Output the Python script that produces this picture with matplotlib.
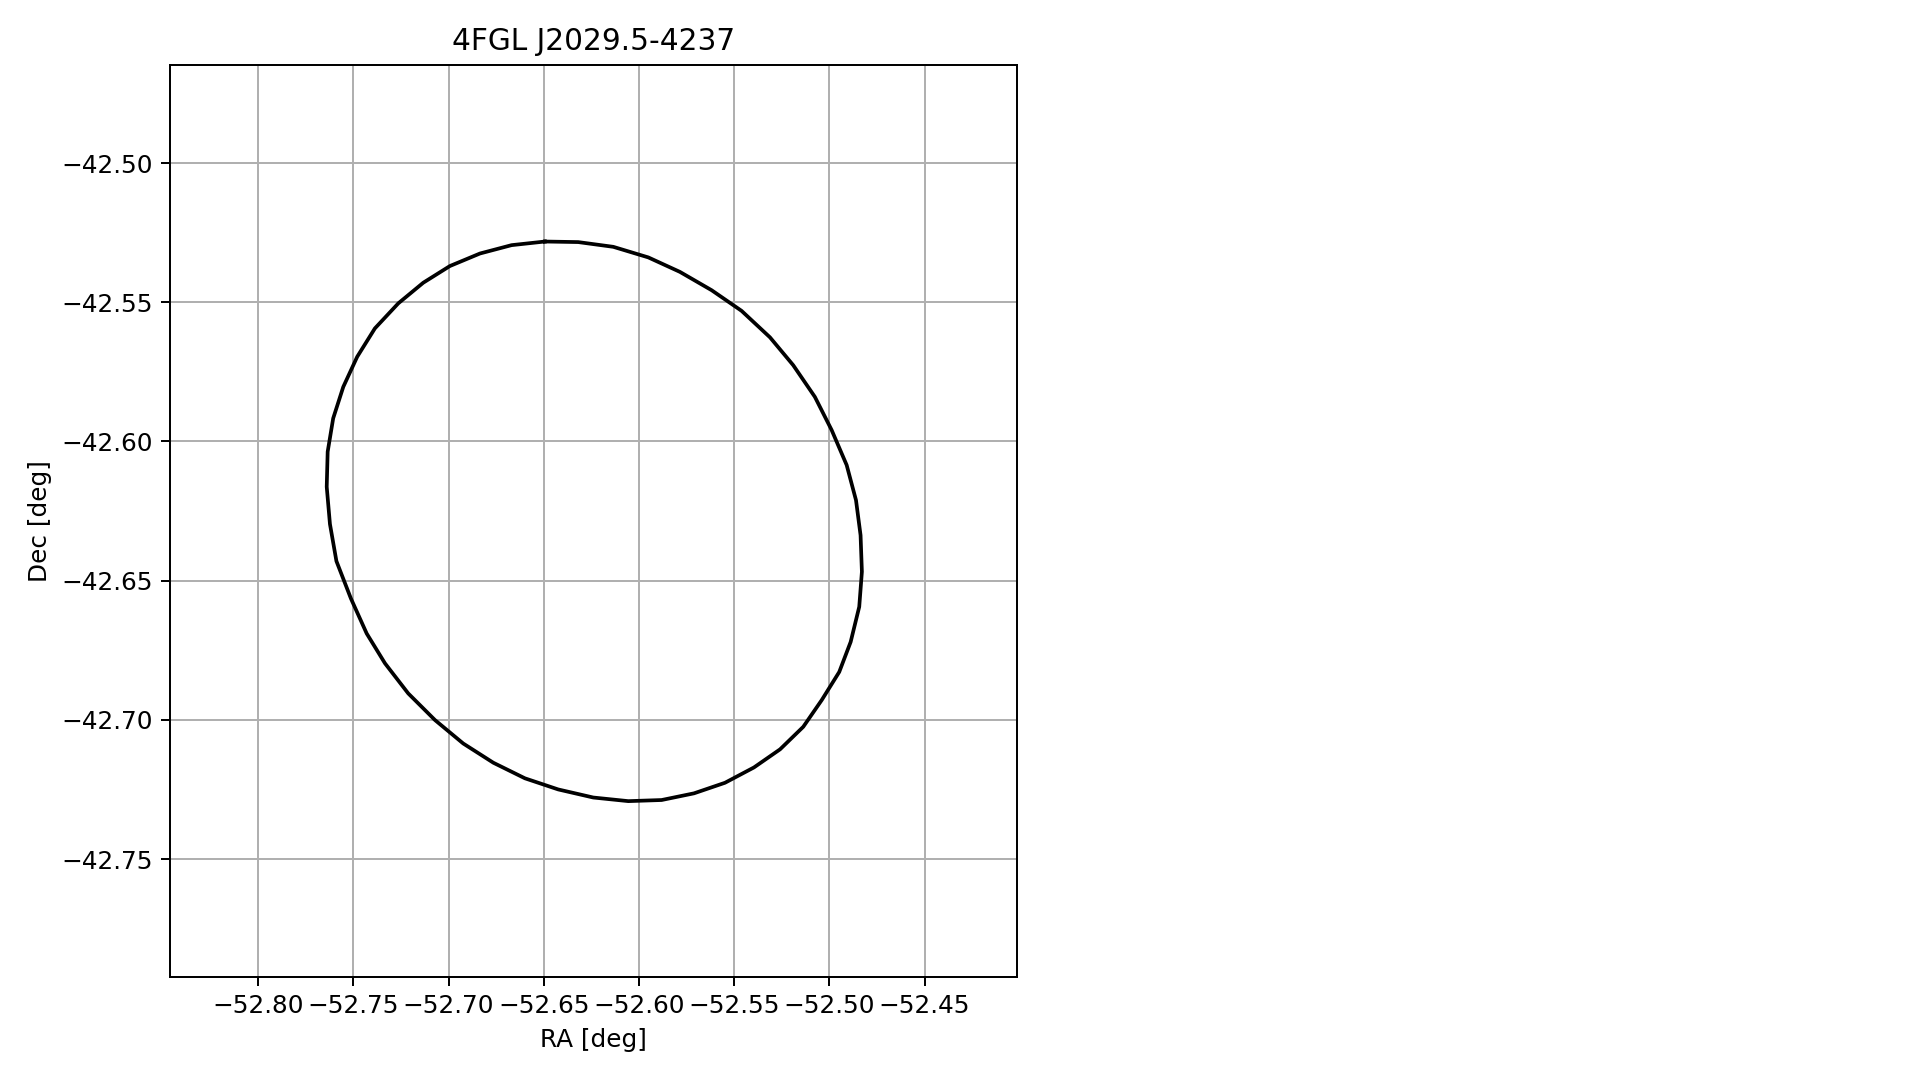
import matplotlib
matplotlib.use("Agg")
import matplotlib.pyplot as plt

# contour vertices (deg)
ra = [-52.6494, -52.6319, -52.6135, -52.5951, -52.5785, -52.5618, -52.5461,
      -52.5312, -52.5190, -52.5076, -52.4988, -52.4909, -52.4860, -52.4836,
      -52.4829, -52.4843, -52.4888, -52.4948, -52.5040, -52.5137, -52.5259,
      -52.5396, -52.5548, -52.5711, -52.5881, -52.6056, -52.6240, -52.6424,
      -52.6599, -52.6765, -52.6923, -52.7071, -52.7212, -52.7334, -52.7430,
      -52.7513, -52.7589, -52.7623, -52.7640, -52.7635, -52.7606, -52.7553,
      -52.7480, -52.7387, -52.7264, -52.7133, -52.6993, -52.6835, -52.6669,
      -52.6494]
dec = [-42.5282, -42.5284, -42.5301, -42.5339, -42.5391, -42.5457, -42.5531,
       -42.5626, -42.5726, -42.5840, -42.5959, -42.6085, -42.6211, -42.6337,
       -42.6468, -42.6594, -42.6720, -42.6828, -42.6929, -42.7025, -42.7106,
       -42.7171, -42.7226, -42.7264, -42.7288, -42.7292, -42.7279, -42.7250,
       -42.7210, -42.7154, -42.7085, -42.7001, -42.6905, -42.6797, -42.6690,
       -42.6564, -42.6430, -42.6297, -42.6163, -42.6037, -42.5917, -42.5804,
       -42.5696, -42.5594, -42.5504, -42.5430, -42.5370, -42.5325, -42.5295,
       -42.5282]

name = "4FGL J2029.5-4237"
ra_ticks = [-52.80, -52.75, -52.70, -52.65, -52.60, -52.55, -52.50, -52.45]
dec_ticks = [-42.50, -42.55, -42.60, -42.65, -42.70, -42.75]

s = 1.78  # scale from default sizes to this canvas
plt.rcParams.update({
    "font.size": 10 * s,
    "axes.linewidth": 0.8 * s,
    "xtick.major.size": 3.5 * s,
    "ytick.major.size": 3.5 * s,
    "xtick.major.width": 0.8 * s,
    "ytick.major.width": 0.8 * s,
    "xtick.major.pad": 3.5 * s,
    "ytick.major.pad": 3.5 * s,
    "axes.titlepad": 6 * s,
    "axes.labelpad": 4 * s,
})

fig = plt.figure(figsize=(19.19, 10.8), dpi=100)
ax = fig.add_axes([0.0888, 0.0958, 0.4411, 0.8440])

ax.plot(ra, dec, color="black", lw=1.5 * s)

ax.set_xlim(-52.8461, -52.4015)
ax.set_ylim(-42.7922, -42.4648)
ax.set_xticks(ra_ticks)
ax.set_yticks(dec_ticks)
ax.grid(True, color="#b0b0b0", lw=0.8 * s)
ax.set_axisbelow(True)

ax.set_xlabel("RA [deg]")
ax.set_ylabel("Dec [deg]")
ax.set_title(name, fontsize=12 * s)

fig.savefig("out.png", dpi=100)
